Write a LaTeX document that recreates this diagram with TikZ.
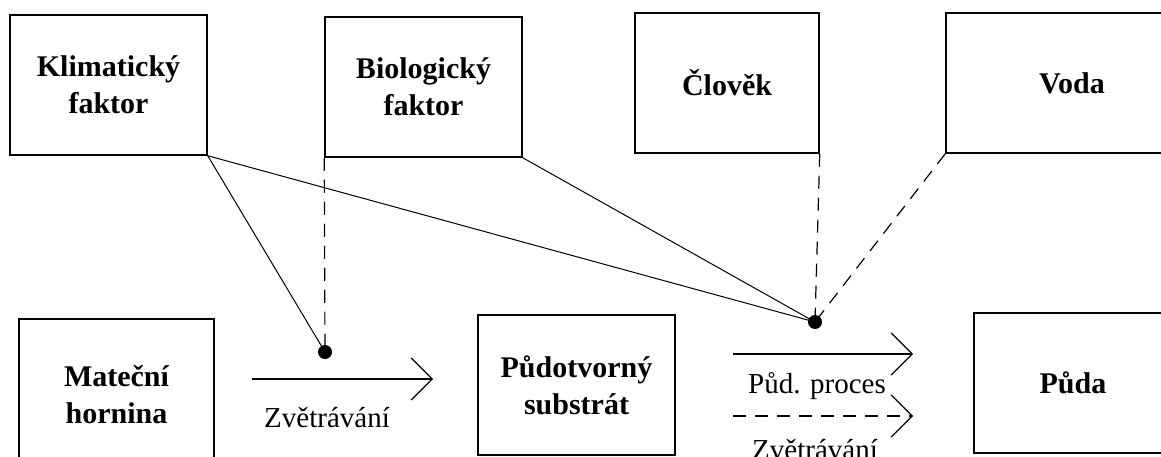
\documentclass[tikz,border=0pt]{standalone}
\usepackage{fontspec}
\setmainfont{Liberation Serif}
\usetikzlibrary{arrows.meta}
\begin{document}
\begin{tikzpicture}[x=1pt,y=-1pt,
  box/.style={draw, line width=1.5pt, inner sep=0pt, align=center, font=\fontsize{30}{37}\selectfont\bfseries},
  conn/.style={line width=1pt},
  dsh/.style={line width=1.2pt, dash pattern=on 13pt off 9pt},
  dotnode/.style={circle, fill, inner sep=0pt, minimum size=14pt},
  lbl/.style={anchor=base, inner sep=0pt, font=\fontsize{29}{34}\selectfont},
  arr/.style={line width=1.2pt, -{Straight Barb[length=21pt,width=42pt,line width=1.2pt]}}
]
\useasboundingbox (0,0) rectangle (1161,457);
\clip (0,0) rectangle (1161,457);
\fill[white] (0,0) rectangle (1161,457);

\node[box, minimum width=197pt, minimum height=140pt] (klim) at (108.5,85) {Klimatický\\faktor};
\node[box, minimum width=197pt, minimum height=140pt] (bio) at (423.5,87) {Biologický\\faktor};
\node[box, minimum width=184pt, minimum height=140pt] (clov) at (727,83) {Člověk};
\node[box, minimum width=252pt, minimum height=140pt] (voda) at (1072,83) {Voda};
\node[box, minimum width=195pt, minimum height=151pt] (mat) at (116.5,394.5) {Mateční\\hornina};
\node[box, minimum width=197pt, minimum height=140pt] (sub) at (576.5,385) {Půdotvorný\\substrát};
\node[box, minimum width=198pt, minimum height=140pt] (puda) at (1073,383) {Půda};

\coordinate (d1) at (325,352);
\coordinate (d2) at (815,322);

\draw[conn] (klim.south east) -- (d1);
\draw[conn] (klim.south east) -- (d2);
\draw[conn] (bio.south east) -- (d2);
\draw[dsh] (bio.south west) -- (d1);
\draw[dsh] (clov.south east) -- (d2);
\draw[dsh] (voda.south west) -- (d2);

\node[dotnode] (dot1) at (d1) {};
\node[dotnode] (dot2) at (d2) {};

\coordinate (a1s) at (252,379);
\coordinate (a1e) at (433,379);
\coordinate (a2s) at (733,354);
\coordinate (a2e) at (913,354);
\coordinate (a3s) at (733,416);
\coordinate (a3e) at (913,416);
\draw[arr] (a1s) -- (a1e);
\draw[arr] (a2s) -- (a2e);
\draw[arr, dash pattern=on 13pt off 9pt] (a3s) -- (a3e);

\node[lbl] (z1) at (327,427) {Zvětrávání};
\node[lbl] (pp) at (817,393) {Půd. proces};
\node[lbl] (z2) at (815,459) {Zvětrávání};
\end{tikzpicture}
\end{document}
